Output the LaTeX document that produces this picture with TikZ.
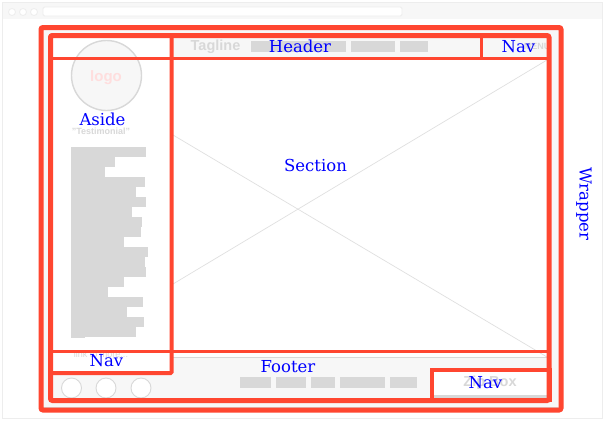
\documentclass[tikz,border=0pt]{standalone}
\usepackage{fontspec}
\setmainfont{Liberation Sans}
\newfontfamily\labelfont{DejaVu Serif}
\definecolor{redline}{HTML}{FF4630}
\definecolor{panel}{HTML}{F7F7F7}
\definecolor{ghost}{HTML}{D8D8D8}

\begin{document}
\begin{tikzpicture}[
    x=1pt, y=-1pt,
    % Region styles
    region/.style={
        draw=redline,
        line width=#1
    },
    bar/.style={
        fill=ghost,
        draw=none
    },
    panelbox/.style={
        fill=panel,
        draw=none
    },
    ghostcircle/.style={
        circle,
        draw=ghost,
        line width=0.9pt,
        fill=#1,
        inner sep=0pt,
        minimum size=20pt
    },
    ghosttext/.style={
        font=\bfseries\fontsize{#1}{#1}\selectfont,
        text=ghost,
        inner sep=0pt
    },
    regionlabel/.style={
        font=\labelfont\fontsize{16.5}{16.5}\selectfont,
        text=blue,
        inner sep=0pt
    }
]
\useasboundingbox (0,0) rectangle (604,423);

% ===== Browser window =====

\fill[white] (0,0) rectangle (604,423);
\draw[black!7, line width=1pt, fill=white] (2,2.5) rectangle (602,418);
\fill[panel] (2.5,3) rectangle (601.5,18.5);
\draw[black!7, fill=white, line width=0.8pt, rounded corners=1.5pt] (43,7) rectangle (402,16);
\foreach \x in {12,23,34} {
    \draw[black!7, fill=white, line width=0.8pt] (\x,12) circle (3.5);
}

% ===== Page background =====

\fill[panel] (41,28) rectangle (561,410);
\draw[ghost, line width=0.8pt] (43,407) -- (558,407);
\fill[white] (50,36) rectangle (549,400);

% Header
\fill[panelbox] (173,38) rectangle (549,57);
\node[ghosttext=14.5] (tagline) at (215.5,46.5) {Tagline};
\foreach \a/\b in {251/346,351/395,400/428} {
    \fill[bar] (\a,41) rectangle (\b,52);
}
\node[ghosttext=9] (menu) at (537,46.5) {MENU};

% Section cross
\draw[black!12, line width=0.7pt] (173,135) -- (547,357);
\draw[black!12, line width=0.7pt] (173,284) -- (547,60);

% Logo
\node[ghostcircle=panel, minimum size=70pt, line width=1.4pt] (logo) at (106.5,75.5) {};
\node[font=\bfseries\fontsize{15}{15}\selectfont, text=red!13, inner sep=0pt] (logotext) at (106,78) {logo};
\node[ghosttext=9] (testimonial) at (101,131.5) {"Testimonial"};

% Testimonial lines
\foreach \w [count=\i from 0] in {146,115,105,145,136,146,132,142,141,124,148,145,146,124,108,143,127,144,136} {
    \fill[bar] (71,147+10*\i) rectangle (\w,157+10*\i);
}
\fill[bar] (71,337) rectangle (85,338);

% Footer
\fill[panelbox] (50,357) rectangle (549,398);
\draw[ghost, line width=0.8pt] (173,357.5) -- (547,357.5);
\draw[ghost, line width=1pt] (53,398) -- (547,398);
\fill[white] (50,351) rectangle (171,373);
\node[font=\fontsize{9}{9}\selectfont, text=ghost, inner sep=0pt] (morelink) at (101,354) {link to more...};
\foreach \x/\name in {71.5/social1,106/social2,141/social3} {
    \node[ghostcircle=white] (\name) at (\x,388) {};
}
\foreach \a/\b in {240/271,276/306,311/335,340/385,390/417} {
    \fill[bar] (\a,377) rectangle (\b,388);
}
\fill[white] (432,370) rectangle (550,395);
\fill[ghost] (433,394.5) rectangle (547,397.5);
\node[ghosttext=14.5] (zipbox) at (490,383) {Zip Box};

% ===== Red regions =====

\draw[region=5pt, rounded corners=2pt] (41,27.5) rectangle (561,410);
\draw[region=5pt, rounded corners=2pt] (50.5,35.5) rectangle (549,400.5);
\draw[region=3pt] (50,58.5) -- (549,58.5);
\draw[region=3pt] (481.5,36) -- (481.5,58.5);
\draw[region=3pt] (50,351.5) -- (549,351.5);
\draw[region=4pt, rounded corners=1pt] (50.5,35.5) rectangle (171.5,373);
\draw[region=4pt] (431.5,370) rectangle (549.5,400);

% ===== Labels =====

\node[regionlabel] (header) at (300,46) {Header};
\node[regionlabel] (topnav) at (518.5,47) {Nav};
\node[regionlabel] (aside) at (102.5,119) {Aside};
\node[regionlabel] (section) at (315.5,165) {Section};
\node[regionlabel] (asidenav) at (106.5,361) {Nav};
\node[regionlabel] (footer) at (288,367) {Footer};
\node[regionlabel] (footernav) at (485.5,383) {Nav};
\node[regionlabel, rotate=-90] (wrapper) at (584,204) {Wrapper};

\end{tikzpicture}
\end{document}
